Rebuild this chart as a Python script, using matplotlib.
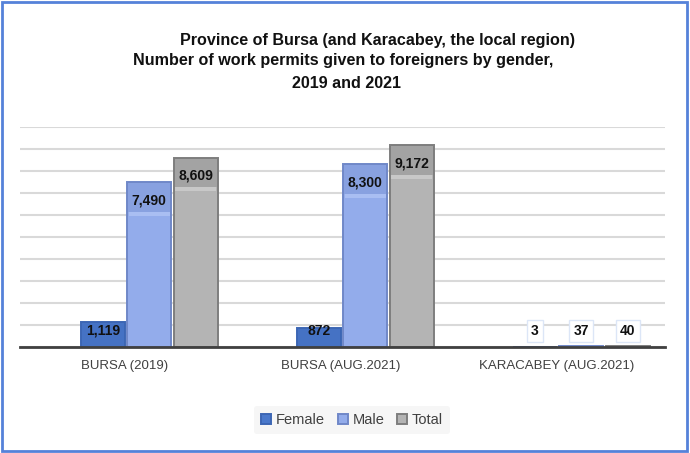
import numpy as np
import matplotlib.pyplot as plt
from matplotlib.patches import Rectangle

categories = ["BURSA (2019)", "BURSA (AUG.2021)", "KARACABEY (AUG.2021)"]
female = [1119, 872, 3]
male = [7490, 8300, 37]
total = [8609, 9172, 40]

series = [
    ("Female", female, "#4A78CB", "#3C66B4", "#5A86D6"),
    ("Male", male, "#93ACEB", "#7088C8", "#A9BEF2"),
    ("Total", total, "#B4B4B4", "#7E7E7E", "#C8C8C8"),
]
offsets = [-0.103, 0.112, 0.328]
bar_w = 0.205
cap = 1350

plt.rcParams["font.family"] = ["Liberation Sans", "DejaVu Sans"]

fig = plt.figure(figsize=(6.9, 4.53), dpi=100)
ax = fig.add_axes([20 / 690, 1 - 347 / 453, 645 / 690, 220 / 453])

x = np.arange(len(categories))
for (name, vals, body, edge, light), off in zip(series, offsets):
    xs = x + off
    ax.bar(xs, vals, width=bar_w, color=body, edgecolor=edge, linewidth=1.4,
           zorder=3, label=name)
    # darker bevel cap on top of each bar, light band under it
    for xi, v in zip(xs, vals):
        c0 = max(0, v - cap)
        ax.bar(xi, v - c0, bottom=c0, width=bar_w, color=edge,
               alpha=0.3, linewidth=0, zorder=4)
        if v > cap:
            ax.bar(xi, 180, bottom=c0 - 180, width=bar_w * 0.92, color=light,
                   linewidth=0, zorder=4)
        ly = max(v - 820, 730)
        box = None
        if v < 500:
            box = dict(boxstyle="square,pad=0.3", facecolor="white",
                       edgecolor="#DCE6F7", linewidth=1)
        ax.text(xi, ly, f"{v:,}", ha="center", va="center", fontsize=10,
                fontweight="bold", color="#111111", zorder=6, bbox=box)

ax.set_ylim(0, 10000)
ax.set_xlim(-0.486, 2.5)
ax.set_yticks(np.arange(0, 10001, 1000))
ax.set_yticklabels([])
ax.tick_params(axis="y", length=0)
ax.tick_params(axis="x", length=0, pad=9, labelsize=9.5, labelcolor="#404040")
ax.set_xticks(x)
ax.set_xticklabels(categories)
ax.grid(axis="y", color="#D9D9D9", linewidth=1.5, zorder=0)
for s in ["top", "right", "left"]:
    ax.spines[s].set_visible(False)
ax.spines["bottom"].set_color("#404040")
ax.spines["bottom"].set_linewidth(2)
ax.spines["bottom"].set_zorder(5)

title_lines = [
    (377, 40, "Province of Bursa (and Karacabey, the local region)"),
    (343, 61, "Number of work permits given to foreigners by gender,"),
    (346, 84, "2019 and 2021"),
]
for tx, ty, t in title_lines:
    fig.text(tx / 690, 1 - ty / 453, t, ha="center", va="center", fontsize=11.6,
             fontweight="bold", color="#111111")

leg = ax.legend(loc="center", bbox_to_anchor=(352 / 690, 1 - 420 / 453),
                bbox_transform=fig.transFigure, ncol=3, frameon=True,
                fontsize=10.5, handlelength=0.7, handleheight=0.7,
                handletextpad=0.3, columnspacing=0.9, borderpad=0.5)
leg.get_frame().set_facecolor("#F4F4F4")
leg.get_frame().set_edgecolor("none")
for t in leg.get_texts():
    t.set_color("#404040")

fig.patches.append(Rectangle((2 / 690, 2 / 453), 685 / 690, 449 / 453,
                             transform=fig.transFigure, fill=False,
                             edgecolor="#5582D9", linewidth=2))

fig.savefig("out.png", dpi=100)
